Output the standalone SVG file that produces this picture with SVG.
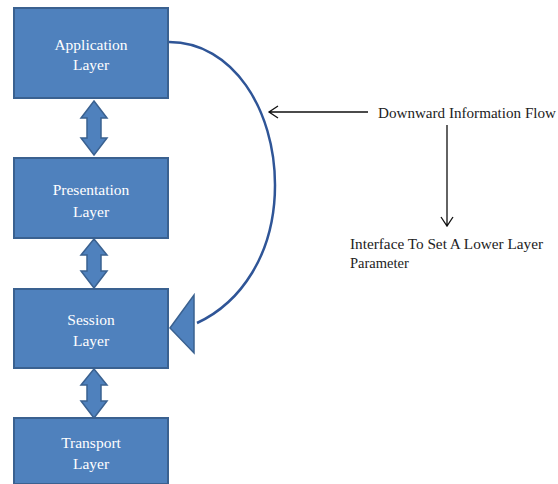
<svg xmlns="http://www.w3.org/2000/svg" width="558" height="484" viewBox="0 0 558 484">
<style>
.box{fill:#4F81BD;stroke:#3A6190;stroke-width:2}
.bt{font-family:"Liberation Serif",serif;font-size:15.5px;fill:#fff;text-anchor:middle}
.dbl{fill:#4F81BD;stroke:#3A6190;stroke-width:1.5}
.lbl{font-family:"Liberation Serif",serif;font-size:14.5px;fill:#222}
.thin{stroke:#111;stroke-width:1.3;fill:none}
</style>
<rect width="558" height="484" fill="#fff"/>
<g id="connectors">
<path d="M94,101 L107,118 L101,118 L101,138 L107,138 L94,155 L81,138 L87,138 L87,118 L81,118 Z" class="dbl"/>
<path d="M94,239 L107,255 L101,255 L101,271 L107,271 L94,288 L81,271 L87,271 L87,255 L81,255 Z" class="dbl"/>
<path d="M94,369 L107,385 L101,385 L101,401 L107,401 L94,418 L81,401 L87,401 L87,385 L81,385 Z" class="dbl"/>
<path d="M169,42 C233,42 275,110 275,185 C275,255 240,303 197,323" fill="none" stroke="#2F5597" stroke-width="2.5"/>
<polygon points="170,328 194,295 194,353" class="dbl"/>
<path d="M368,112 L269,112 M278,106 L269,112 L278,118" class="thin"/>
<path d="M447,125 L447,226 M441,217 L447,226 L453,217" class="thin"/>
</g>
<g id="application">
<rect x="14" y="8" width="154" height="90" class="box"/>
<text x="91" y="50" class="bt">Application</text>
<text x="91" y="70" class="bt">Layer</text>
</g>
<g id="presentation">
<rect x="14" y="158" width="154" height="80" class="box"/>
<text x="91" y="195" class="bt">Presentation</text>
<text x="91" y="217" class="bt">Layer</text>
</g>
<g id="session">
<rect x="14" y="289" width="154" height="79" class="box"/>
<text x="91" y="325" class="bt">Session</text>
<text x="91" y="346" class="bt">Layer</text>
</g>
<g id="transport">
<rect x="14" y="418" width="154" height="66" class="box"/>
<text x="91" y="448" class="bt">Transport</text>
<text x="91" y="469" class="bt">Layer</text>
</g>
<g id="flow-label">
<text x="378" y="118" class="lbl" textLength="178" lengthAdjust="spacingAndGlyphs">Downward Information Flow</text>
</g>
<g id="interface-label">
<text x="350" y="249" class="lbl" textLength="193" lengthAdjust="spacingAndGlyphs">Interface To Set A Lower Layer</text>
<text x="350" y="268" class="lbl">Parameter</text>
</g>
</svg>
